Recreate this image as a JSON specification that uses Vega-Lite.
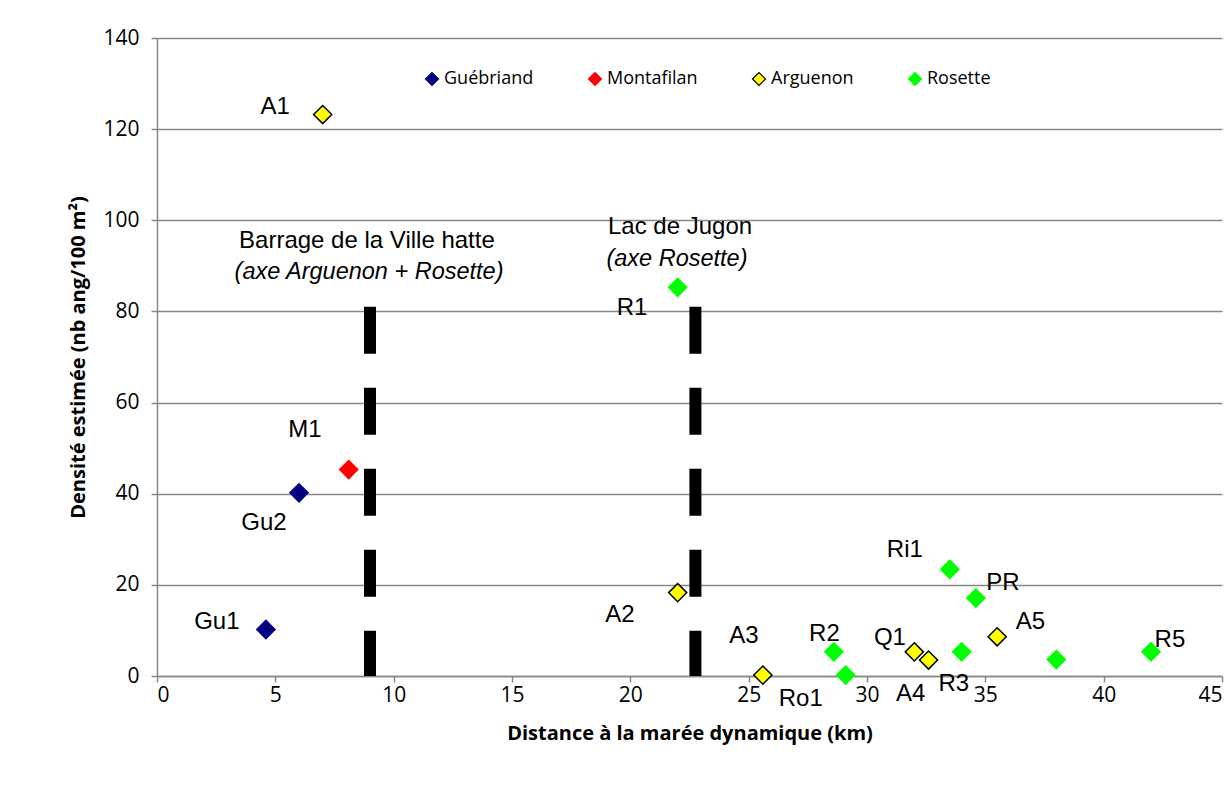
{
  "$schema": "https://vega.github.io/schema/vega-lite/v6.json",
  "width": 1065,
  "height": 638,
  "autosize": "none",
  "padding": {"left": 157, "top": 38, "right": 7, "bottom": 118},
  "background": "white",
  "config": {
    "view": {"stroke": null},
    "axis": {
      "labelFont": "Open Sans", "labelFontSize": 21, "labelColor": "black",
      "titleFont": "Open Sans", "titleFontWeight": "bold", "titleFontSize": 20, "titleColor": "black",
      "domainColor": "#888888", "domainWidth": 1.5, "tickColor": "#888888", "tickWidth": 1.5, "tickSize": 6,
      "gridColor": "#888888", "gridWidth": 1.5
    }
  },
  "datasets": {
    "points": [
      {"site": "Gu1", "riviere": "Guébriand", "km": 4.6, "densite": 10.2},
      {"site": "Gu2", "riviere": "Guébriand", "km": 6.0, "densite": 40.2},
      {"site": "M1", "riviere": "Montafilan", "km": 8.1, "densite": 45.3},
      {"site": "A1", "riviere": "Arguenon", "km": 7.0, "densite": 123.2},
      {"site": "A2", "riviere": "Arguenon", "km": 22.0, "densite": 18.3},
      {"site": "A3", "riviere": "Arguenon", "km": 25.6, "densite": 0.2},
      {"site": "Q1", "riviere": "Arguenon", "km": 32.0, "densite": 5.3},
      {"site": "A4", "riviere": "Arguenon", "km": 32.6, "densite": 3.5},
      {"site": "A5", "riviere": "Arguenon", "km": 35.5, "densite": 8.6},
      {"site": "R1", "riviere": "Rosette", "km": 22.0, "densite": 85.3},
      {"site": "R2", "riviere": "Rosette", "km": 28.6, "densite": 5.3},
      {"site": "Ro1", "riviere": "Rosette", "km": 29.1, "densite": 0.2},
      {"site": "Ri1", "riviere": "Rosette", "km": 33.5, "densite": 23.4},
      {"site": "R3", "riviere": "Rosette", "km": 34.0, "densite": 5.3},
      {"site": "PR", "riviere": "Rosette", "km": 34.6, "densite": 17.1},
      {"site": "", "riviere": "Rosette", "km": 38.0, "densite": 3.6},
      {"site": "R5", "riviere": "Rosette", "km": 42.0, "densite": 5.3}
    ],
    "labels": [
      {"txt": "A1", "lx": 4.99, "ly": 124.9},
      {"txt": "M1", "lx": 6.25, "ly": 54.0},
      {"txt": "Gu2", "lx": 4.52, "ly": 33.6},
      {"txt": "Gu1", "lx": 2.53, "ly": 11.85},
      {"txt": "R1", "lx": 20.07, "ly": 80.75},
      {"txt": "A2", "lx": 19.56, "ly": 13.4},
      {"txt": "A3", "lx": 24.8, "ly": 8.8},
      {"txt": "R2", "lx": 28.2, "ly": 9.2},
      {"txt": "Ro1", "lx": 27.2, "ly": -5.05},
      {"txt": "Q1", "lx": 30.97, "ly": 8.3},
      {"txt": "A4", "lx": 31.85, "ly": -3.95},
      {"txt": "R3", "lx": 33.67, "ly": -1.75},
      {"txt": "Ri1", "lx": 31.6, "ly": 27.6},
      {"txt": "PR", "lx": 35.74, "ly": 20.4},
      {"txt": "A5", "lx": 36.9, "ly": 11.85},
      {"txt": "R5", "lx": 42.8, "ly": 7.9}
    ],
    "barrages": [
      {"km": 9.0, "haut": 81},
      {"km": 22.75, "haut": 81}
    ],
    "notes": [
      {"txt": "Barrage de la Ville hatte", "nx": 8.87, "ny": 95.5, "style": "normal"},
      {"txt": "(axe Arguenon + Rosette)", "nx": 8.96, "ny": 88.7, "style": "italic"},
      {"txt": "Lac de Jugon", "nx": 22.1, "ny": 98.5, "style": "normal"},
      {"txt": "(axe Rosette)", "nx": 21.97, "ny": 91.5, "style": "italic"}
    ]
  },
  "layer": [
    {
      "data": {"name": "barrages"},
      "mark": {"type": "rule", "color": "black", "strokeWidth": 12, "strokeDash": [47, 34]},
      "encoding": {
        "x": {"field": "km", "type": "quantitative", "scale": {"domain": [0, 45]}},
        "y": {"field": "haut", "type": "quantitative", "scale": {"domain": [0, 140]}},
        "y2": {"datum": 0}
      }
    },
    {
      "data": {"name": "points"},
      "mark": {"type": "point", "shape": "diamond", "filled": true, "size": 330, "strokeWidth": 1.5, "opacity": 1},
      "encoding": {
        "x": {"field": "km", "type": "quantitative", "scale": {"domain": [0, 45]},
              "axis": {"values": [0,5,10,15,20,25,30,35,40,45], "grid": false, "title": "Distance à la marée dynamique (km)", "titlePadding": 18, "labelPadding": 2}},
        "y": {"field": "densite", "type": "quantitative", "scale": {"domain": [0, 140]},
              "axis": {"values": [0,20,40,60,80,100,120,140], "grid": true, "title": "Densité estimée (nb ang/100 m²)", "titlePadding": 14, "labelPadding": 12}},
        "fill": {"field": "riviere", "type": "nominal",
                 "scale": {"domain": ["Guébriand", "Montafilan", "Arguenon", "Rosette"], "range": ["#000080", "#FF0000", "#FFFF00", "#00FF00"]},
                 "legend": {"orient": "none", "legendX": 266, "legendY": 32, "direction": "horizontal", "title": null,
                            "labelFont": "Open Sans", "labelFontSize": 18, "labelColor": "black", "symbolSize": 170,
                            "columnPadding": 52, "labelOffset": 3, "padding": 0, "symbolStrokeWidth": 1.2}},
        "stroke": {"field": "riviere", "type": "nominal",
                   "scale": {"domain": ["Guébriand", "Montafilan", "Arguenon", "Rosette"], "range": ["#000080", "#FF0000", "#000000", "#00FF00"]},
                   "legend": {"orient": "none", "legendX": 266, "legendY": 32, "direction": "horizontal", "title": null,
                            "labelFont": "Open Sans", "labelFontSize": 18, "labelColor": "black", "symbolSize": 170,
                            "columnPadding": 52, "labelOffset": 3, "padding": 0, "symbolStrokeWidth": 1.2}},
        "shape": {"value": "diamond"}
      }
    },
    {
      "data": {"name": "labels"},
      "mark": {"type": "text", "font": "Liberation Sans", "fontSize": 24, "color": "black", "align": "center", "baseline": "middle", "clip": false},
      "encoding": {
        "x": {"field": "lx", "type": "quantitative"},
        "y": {"field": "ly", "type": "quantitative"},
        "text": {"field": "txt"}
      }
    },
    {
      "data": {"name": "notes"},
      "transform": [{"filter": "datum.style === 'normal'"}],
      "mark": {"type": "text", "font": "Liberation Sans", "fontSize": 24, "color": "black", "align": "center", "baseline": "middle"},
      "encoding": {
        "x": {"field": "nx", "type": "quantitative"},
        "y": {"field": "ny", "type": "quantitative"},
        "text": {"field": "txt"}
      }
    },
    {
      "data": {"name": "notes"},
      "transform": [{"filter": "datum.style === 'italic'"}],
      "mark": {"type": "text", "font": "Liberation Sans", "fontSize": 23.5, "fontStyle": "italic", "color": "black", "align": "center", "baseline": "middle"},
      "encoding": {
        "x": {"field": "nx", "type": "quantitative"},
        "y": {"field": "ny", "type": "quantitative"},
        "text": {"field": "txt"}
      }
    }
  ]
}
